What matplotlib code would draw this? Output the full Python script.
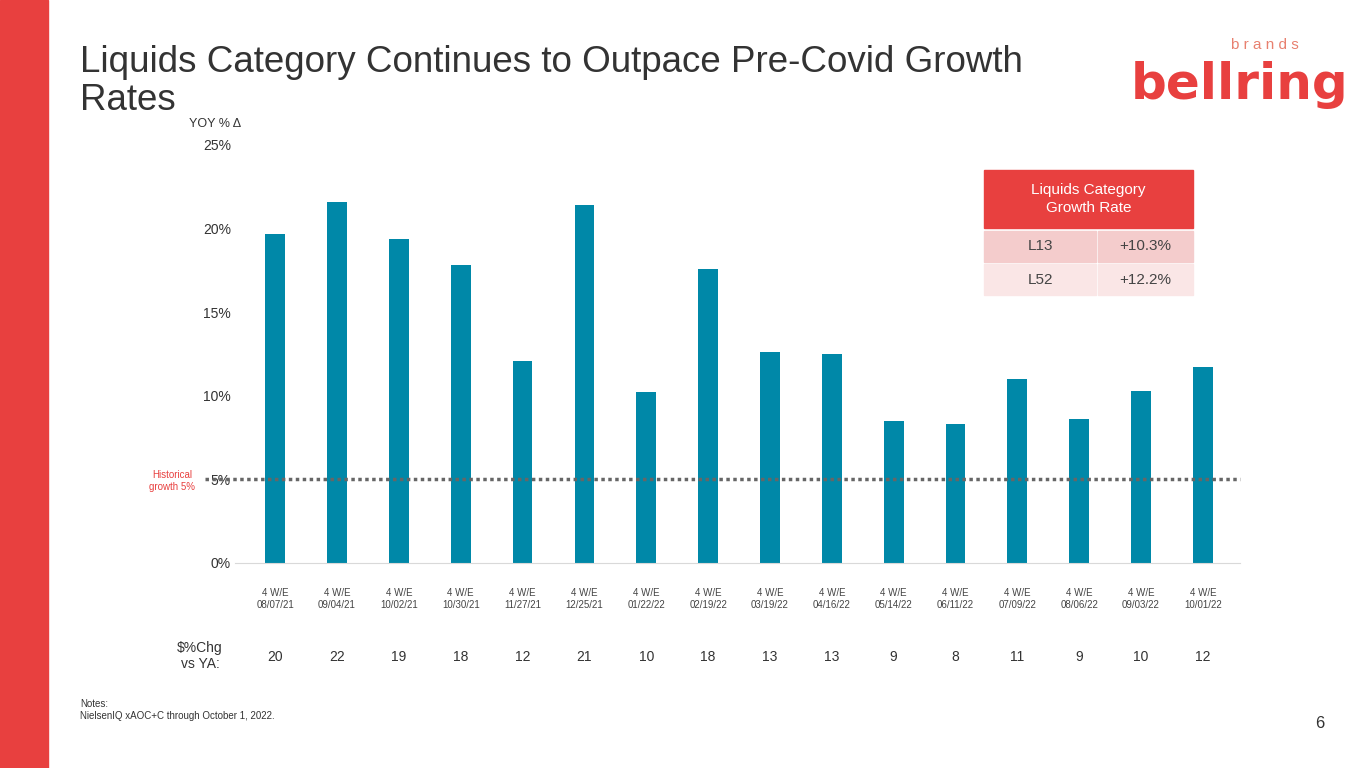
import matplotlib
matplotlib.use('Agg')
import matplotlib.pyplot as plt
from matplotlib.patches import Rectangle

plt.rcParams['font.family'] = ['Liberation Sans', 'DejaVu Sans']

weeks = ['08/07/21', '09/04/21', '10/02/21', '10/30/21', '11/27/21', '12/25/21', '01/22/22', '02/19/22',
         '03/19/22', '04/16/22', '05/14/22', '06/11/22', '07/09/22', '08/06/22', '09/03/22', '10/01/22']
growth = [19.7, 21.6, 19.4, 17.8, 12.1, 21.4, 10.2, 17.6, 12.6, 12.5, 8.5, 8.3, 11.0, 8.6, 10.3, 11.7]
chg = [20, 22, 19, 18, 12, 21, 10, 18, 13, 13, 9, 8, 11, 9, 10, 12]
table_rows = [('L13', '+10.3%'), ('L52', '+12.2%')]
historical = 5

RED = '#E8403F'
TEAL = '#0088A8'
W, H = 1365, 768

fig = plt.figure(figsize=(13.65, 7.68), dpi=100)
fig.patches.append(Rectangle((0, 0), 48 / W, 1, transform=fig.transFigure, color=RED))

fig.text(80 / W, 1 - 62 / H, 'Liquids Category Continues to Outpace Pre-Covid Growth',
         fontsize=26.5, color='#333333', va='center')
fig.text(80 / W, 1 - 100 / H, 'Rates', fontsize=26.5, color='#333333', va='center')

# logo
fig.text(1240 / W, 1 - 85 / H, 'bellring', fontsize=36, color=RED, weight='bold',
         ha='center', va='center', family='DejaVu Sans Condensed' if False else 'Liberation Sans Narrow')
fig.text(1265 / W, 1 - 45 / H, 'b r a n d s', fontsize=11, color='#E8806F', ha='center', va='center')

ax = fig.add_axes([235 / W, (H - 563) / H, (1240 - 235) / W, (563 - 145) / H])
x = list(range(len(growth)))
ax.bar(x, growth, width=0.32, color=TEAL)
ax.axhline(historical, color='#666666', linestyle=(0, (1, 1)), linewidth=2.5, xmin=-0.03, clip_on=False)
ax.set_xlim(-0.65, len(growth) - 0.4)
ax.set_ylim(0, 25)
ax.set_yticks([0, 5, 10, 15, 20, 25])
ax.set_yticklabels([f'{v}%' for v in [0, 5, 10, 15, 20, 25]], fontsize=10, color='#333333')
ax.set_xticks(x)
ax.set_xticklabels([f'4 W/E\n{w}' for w in weeks], fontsize=7, color='#444444')
ax.tick_params(length=0, axis='both', pad=18)
ax.tick_params(axis='y', pad=3)
for s in ['top', 'right', 'left']:
    ax.spines[s].set_visible(False)
ax.spines['bottom'].set_color('#D9D9D9')

fig.text(215 / W, 1 - 124 / H, 'YOY % Δ', fontsize=9, color='#333333', ha='center', va='center')
fig.text(172 / W, 1 - 481 / H, 'Historical\ngrowth 5%', fontsize=7, color=RED, ha='center', va='center')
fig.text(200 / W, 1 - 656 / H, '$%Chg\nvs YA:', fontsize=10, color='#333333', ha='center', va='center')
for i, v in enumerate(chg):
    ax.text(i, -0.225, str(v), transform=ax.get_xaxis_transform(), ha='center', va='center',
            fontsize=10, color='#333333')

# table
tx0, tx1, tmid = 984, 1193, 1097
def box(x0, y0, x1, y1, c):
    fig.patches.append(Rectangle((x0 / W, 1 - y1 / H), (x1 - x0) / W, (y1 - y0) / H,
                                 transform=fig.transFigure, color=c))
box(tx0, 170, tx1, 228, RED)
fig.text((tx0 + tx1) / 2 / W, 1 - 199 / H, 'Liquids Category\nGrowth Rate', color='white',
         fontsize=11, ha='center', va='center', linespacing=1.4)
cols = ['#F4CCCC', '#FAE6E6']
for r, (lab, val) in enumerate(table_rows):
    y0 = 231 + r * 33
    box(tx0, y0, tmid - 1, y0 + 31, cols[r])
    box(tmid + 1, y0, tx1, y0 + 31, cols[r])
    fig.text((tx0 + tmid) / 2 / W, 1 - (y0 + 15.5) / H, lab, fontsize=11, color='#444444', ha='center', va='center')
    fig.text((tmid + tx1) / 2 / W, 1 - (y0 + 15.5) / H, val, fontsize=11, color='#444444', ha='center', va='center')

fig.text(80 / W, 1 - 710 / H, 'Notes:\nNielsenIQ xAOC+C through October 1, 2022.', fontsize=7,
         color='#333333', va='center')
fig.text(1320 / W, 1 - 724 / H, '6', fontsize=12, color='#333333', ha='center', va='center')

fig.savefig('out.png', dpi=100)
